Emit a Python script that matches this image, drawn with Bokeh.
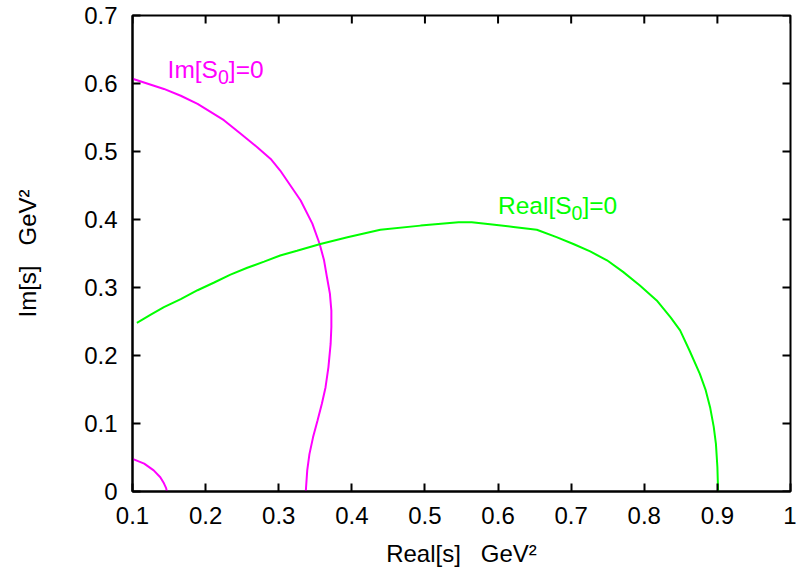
import math
from bokeh.plotting import figure
from bokeh.models import Label, FixedTicker, Range1d
from bokeh.embed import file_html
from bokeh.resources import INLINE

# ---- data ----
im_big_x = [0.100, 0.143, 0.166, 0.189, 0.225, 0.248, 0.271, 0.289, 0.302, 0.316,
            0.330, 0.346, 0.356, 0.362, 0.366, 0.370, 0.372, 0.372, 0.371, 0.368,
            0.364, 0.359, 0.353, 0.347, 0.342, 0.339, 0.337]
im_big_y = [0.607, 0.592, 0.582, 0.570, 0.546, 0.526, 0.506, 0.489, 0.472, 0.450,
            0.428, 0.394, 0.364, 0.340, 0.315, 0.291, 0.266, 0.242, 0.217, 0.183,
            0.153, 0.129, 0.104, 0.080, 0.055, 0.031, 0.000]

im_small_x = [0.100, 0.116, 0.129, 0.138, 0.143, 0.146, 0.147]
im_small_y = [0.048, 0.041, 0.031, 0.021, 0.012, 0.005, 0.000]

re_x = [0.106, 0.125, 0.143, 0.166, 0.189, 0.211, 0.234, 0.257, 0.280, 0.302, 0.325,
        0.357, 0.394, 0.439, 0.494, 0.546, 0.564, 0.589, 0.621, 0.653, 0.680, 0.703,
        0.726, 0.749, 0.771, 0.794, 0.817, 0.836, 0.849, 0.862, 0.876, 0.884, 0.890,
        0.895, 0.898, 0.900, 0.901]
re_y = [0.248, 0.260, 0.271, 0.283, 0.296, 0.307, 0.319, 0.329, 0.338, 0.347, 0.354,
        0.364, 0.374, 0.385, 0.391, 0.396, 0.396, 0.393, 0.389, 0.385, 0.374, 0.364,
        0.353, 0.340, 0.323, 0.303, 0.281, 0.256, 0.237, 0.207, 0.173, 0.149, 0.124,
        0.095, 0.070, 0.036, 0.000]

x_ticks = [0.1, 0.2, 0.3, 0.4, 0.5, 0.6, 0.7, 0.8, 0.9, 1.0]
x_tick_labels = ["0.1", "0.2", "0.3", "0.4", "0.5", "0.6", "0.7", "0.8", "0.9", "1"]
y_ticks = [0.0, 0.1, 0.2, 0.3, 0.4, 0.5, 0.6, 0.7]
y_tick_labels = ["0", "0.1", "0.2", "0.3", "0.4", "0.5", "0.6", "0.7"]

X_MIN, X_MAX = 0.1, 1.0
Y_MIN, Y_MAX = 0.0, 0.7

MAGENTA = "#ff00ff"
GREEN = "#00ff00"
FONT = "Liberation Sans"
NB = "\u00a0"

p = figure(width=796, height=574, output_backend="svg", toolbar_location=None,
           x_range=Range1d(X_MIN, X_MAX), y_range=Range1d(Y_MIN, Y_MAX),
           min_border_left=132, min_border_right=6, min_border_top=15, min_border_bottom=83)
p.background_fill_color = "white"
p.border_fill_color = "white"
p.grid.visible = False
p.outline_line_color = "black"
p.outline_line_width = 2

p.xaxis.ticker = FixedTicker(ticks=x_ticks)
p.yaxis.ticker = FixedTicker(ticks=y_ticks)
p.xaxis.major_label_overrides = {t: l for t, l in zip(x_ticks, x_tick_labels)}
p.yaxis.major_label_overrides = {t: l for t, l in zip(y_ticks, y_tick_labels)}

for ax in (p.xaxis[0], p.yaxis[0]):
    ax.major_tick_in = 8
    ax.major_tick_out = 0
    ax.minor_tick_in = 0
    ax.minor_tick_out = 0
    ax.major_tick_line_width = 2
    ax.axis_line_width = 2
    ax.major_label_text_font = FONT
    ax.major_label_text_font_size = "24px"
    ax.major_label_text_color = "black"
    ax.axis_label_text_font = FONT
    ax.axis_label_text_font_size = "24px"
    ax.axis_label_text_font_style = "normal"
    ax.axis_label_text_color = "black"

p.xaxis.axis_label = "Real[s]" + NB * 3 + "GeV\u00b2"
p.yaxis.axis_label = "Im[s]" + NB * 3 + "GeV\u00b2"
p.xaxis.major_label_standoff = 15
p.yaxis.major_label_standoff = 15
p.xaxis.axis_label_standoff = 13
p.yaxis.axis_label_standoff = 40

# mirror ticks on the top and right edges (8 px, pointing inward)
p.ray(x=x_ticks, y=[Y_MAX] * len(x_ticks), length=8, length_units="screen",
      angle=-math.pi / 2, line_color="black", line_width=2)
p.ray(x=[X_MAX] * len(y_ticks), y=y_ticks, length=8, length_units="screen",
      angle=math.pi, line_color="black", line_width=2)

p.line(im_big_x, im_big_y, line_color=MAGENTA, line_width=2)
p.line(im_small_x, im_small_y, line_color=MAGENTA, line_width=2)
p.line(re_x, re_y, line_color=GREEN, line_width=2)

# Arial / Liberation Sans advance widths (per em)
W = {"I": 0.278, "m": 0.833, "[": 0.278, "S": 0.667, "]": 0.278, "=": 0.584,
     "0": 0.556, "R": 0.722, "e": 0.556, "a": 0.556, "l": 0.222}


def rich_label(x, y, pieces, color, size):
    off = 0.0
    for text, sub in pieces:
        fs = size * 0.8 if sub else size
        p.add_layout(Label(x=x, y=y, x_offset=off, y_offset=(-0.3 * size if sub else 0),
                           text=text, text_font=FONT, text_font_size=f"{fs:.1f}px",
                           text_color=color, text_baseline="alphabetic", text_align="left"))
        off += sum(W.get(c, 0.556) for c in text) * fs


rich_label(0.148, 0.620, [("Im[S", False), ("0", True), ("]=0", False)], MAGENTA, 24.5)
rich_label(0.600, 0.4206, [("Real[S", False), ("0", True), ("]=0", False)], GREEN, 24.5)

open("out.html", "w").write(file_html(p, INLINE))
